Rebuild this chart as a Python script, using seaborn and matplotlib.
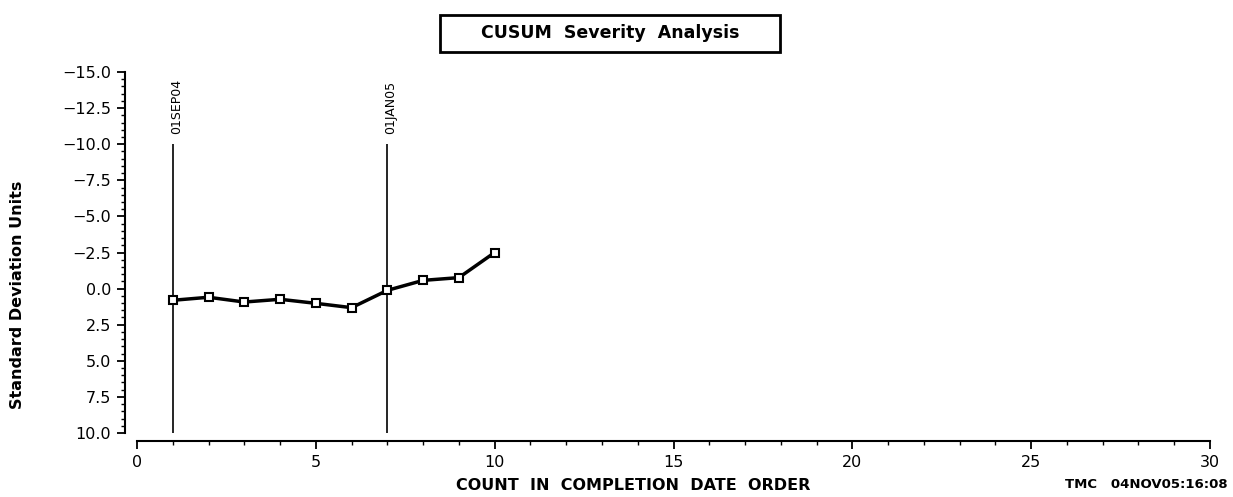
import matplotlib
matplotlib.use('Agg')
import matplotlib.pyplot as plt
import matplotlib.patches as patches
import seaborn as sns
import pandas as pd
from matplotlib.ticker import MultipleLocator

# data
counts = [1, 2, 3, 4, 5, 6, 7, 8, 9, 10]
cusum = [0.81, 0.60, 0.93, 0.74, 1.02, 1.32, 0.12, -0.57, -0.76, -2.50]
ref_x = [1, 7]
ref_labels = ['01SEP04', '01JAN05']
x_ticks = [0, 5, 10, 15, 20, 25, 30]
y_ticks = [-15.0, -12.5, -10.0, -7.5, -5.0, -2.5, 0.0, 2.5, 5.0, 7.5, 10.0]

df = pd.DataFrame({'count': counts, 'sd': cusum})

sns.set_style('ticks')
plt.rcParams['font.family'] = ['DejaVu Sans']
plt.rcParams['text.color'] = 'black'
plt.rcParams['xtick.color'] = 'black'
plt.rcParams['ytick.color'] = 'black'
plt.rcParams['axes.edgecolor'] = 'black'

fig = plt.figure(figsize=(12.33, 4.97), dpi=100)
ax = fig.add_axes([137 / 1233, 1 - 433 / 497, (1210 - 137) / 1233, (433 - 72) / 497])

# reference lines with date labels
ax.vlines(ref_x, ymin=10, ymax=-10, color='black', linewidth=1.2)
for x, lab in zip(ref_x, ref_labels):
    ax.text(x + 0.1, -10.7, lab, rotation=90, ha='center', va='bottom', fontsize=9)

sns.lineplot(data=df, x='count', y='sd', ax=ax, color='black', linewidth=2.5,
             marker='s', markersize=6, markerfacecolor='white',
             markeredgecolor='black', markeredgewidth=1.5)

ax.set_xlim(0, 30)
ax.set_ylim(10, -15)
ax.set_xticks(x_ticks)
ax.set_yticks(y_ticks)
ax.set_yticklabels([f'{v:.1f}'.replace('-', '\u2212') for v in y_ticks])
ax.xaxis.set_minor_locator(MultipleLocator(1))
ax.yaxis.set_minor_locator(MultipleLocator(0.5))
ax.tick_params(which='major', length=6, width=1.3, labelsize=11.5, direction='out')
ax.tick_params(which='minor', length=3, width=1.0, direction='out')

sns.despine(ax=ax, top=True, right=True)
ax.spines['left'].set_position(('outward', 9))
ax.spines['bottom'].set_position(('outward', 6))
ax.spines['left'].set_linewidth(1.5)
ax.spines['bottom'].set_linewidth(1.5)

ax.set_xlabel('')
ax.set_ylabel('')

fig.text(18 / 1233, 1 - 295 / 497, 'Standard Deviation Units', rotation=90, ha='center', va='center',
         fontsize=11.5, fontweight='bold')

# boxed title
fig.patches.append(patches.Rectangle((440 / 1233, 1 - 52 / 497), 340 / 1233, 37 / 497,
                                     transform=fig.transFigure, facecolor='white',
                                     edgecolor='black', linewidth=2))
fig.text(610 / 1233, 1 - 33 / 497, 'CUSUM  Severity  Analysis', ha='center', va='center',
         fontsize=12.5, fontweight='bold')

fig.text(633 / 1233, 1 - 485 / 497, 'COUNT  IN  COMPLETION  DATE  ORDER', ha='center', va='center',
         fontsize=11.5, fontweight='bold')
fig.text(1228 / 1233, 1 - 485 / 497, 'TMC   04NOV05:16:08', ha='right', va='center',
         fontsize=9.5, fontweight='bold')

fig.savefig('out.png', dpi=100)
plt.close(fig)
